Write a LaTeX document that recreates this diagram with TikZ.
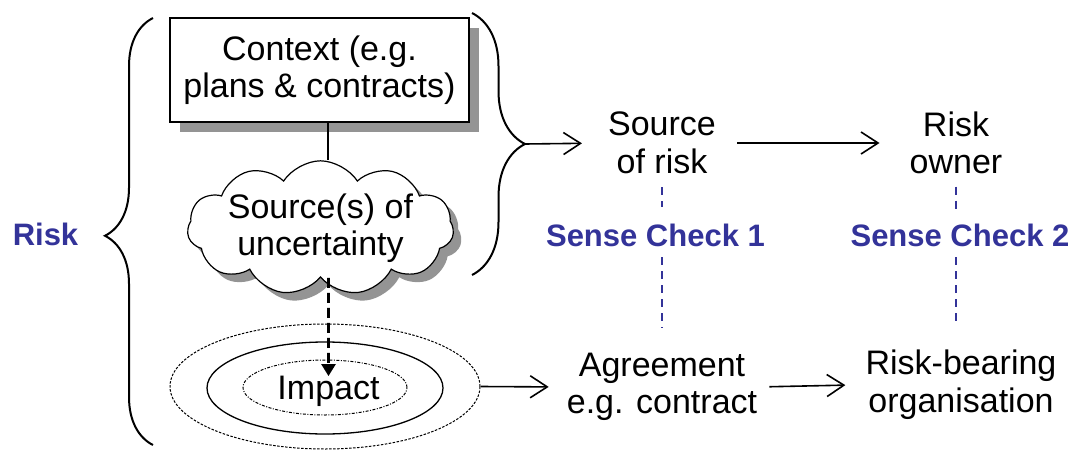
\documentclass[tikz,border=0pt]{standalone}
\usepackage{fontspec}
\setmainfont{Liberation Sans}
\usetikzlibrary{calc,shapes.geometric,shapes.symbols,shadows,decorations.pathreplacing,arrows.meta}
\definecolor{checkblue}{RGB}{51,51,153}

\begin{document}
\begin{tikzpicture}[
        x=1pt, y=-1pt,
        txt/.style={
            align=center,
            inner sep=0pt,
            font=\fontsize{34}{37.5}\selectfont,
        },
        context/.style={
            rectangle,
            draw,
            fill=white,
            line width=1.2pt,
            minimum width=299pt,
            minimum height=104pt,
            drop shadow={shadow xshift=10pt, shadow yshift=-10pt, fill=black!42, opacity=1},
        },
        puff/.style={
            cloud,
            cloud puffs=11,
            cloud puff arc=115,
            cloud ignores aspect,
            draw,
            fill=white,
            line width=1.2pt,
            minimum width=265pt,
            minimum height=112pt,
            drop shadow={shadow xshift=8pt, shadow yshift=-8pt, fill=black!42, opacity=1},
        },
        ring/.style={
            ellipse,
            draw,
            inner sep=0pt,
            line width=1pt,
        },
        sense/.style={
            inner sep=0pt,
            text=checkblue,
            font=\fontsize{31}{34}\selectfont\bfseries,
        },
        check/.style={
            draw=checkblue,
            line width=1.6pt,
            dash pattern=on 8pt off 6pt,
        },
        link/.style={
            -{Straight Barb[length=17pt,width=22pt]},
            line width=1.6pt,
        },
        bracket/.style={
            decorate,
            decoration={brace, amplitude=#1, aspect=0.5},
            line width=2pt,
        },
    ]

    \useasboundingbox (0,0) rectangle (1074,450);

    \draw [bracket=48pt, decoration={aspect=0.49}] (153,445) -- (153,18);
    \draw [bracket=53pt] (472,13) -- (472,275);
    \coordinate (rtip) at (525,144);

    \node (risk) at (45.5,234.5) [sense] {Risk};

    \node (ctx) at (319.5,70) [txt, context] {Context (e.g.\\plans \& contracts)};
    \node (worry) at (320.5,228) [txt, puff] {Source(s) of\\uncertainty};
    \draw [line width=2pt] ([xshift=8pt]ctx.south) -- ([xshift=8pt]ctx.south |- worry.north);

    \node (outer) at (325,386.5) [ring, dash pattern=on 2.5pt off 1.5pt, minimum width=310pt, minimum height=125pt] {};
    \node (middle) at (325,388) [ring, line width=1.3pt, minimum width=236pt, minimum height=92pt] {};
    \node (inner) at (325,387.5) [ring, dash pattern=on 3pt off 1.5pt on 1pt off 1.5pt, minimum width=164pt, minimum height=55pt] {};
    \node (impact) at (328.5,391.5) [txt] {Impact};
    \draw [line width=2.6pt, dash pattern=on 10pt off 5pt, -{Triangle[length=12pt,width=14pt]}] ([xshift=8pt]worry.south) -- (impact.north);

    \node (src) at (662,143) [txt] {Source\\of risk};
    \node (owner) at (956,143) [txt] {Risk\\owner};
    \node (agree) at (662,387) [txt] {Agreement\\e.g. contract};
    \node (bearer) at (961,384.7) [txt] {Risk-bearing\\organisation};

    \draw [link, shorten >=26pt] (rtip) -- (src.west);
    \draw [link, shorten <=21pt, shorten >=30pt] (src.east) -- (owner.west);
    \draw [link, shorten >=18pt] (outer.east) -- (agree.west);
    \draw [link, shorten <=12pt, shorten >=20pt] (agree.east) -- (bearer.west);

    \node (sc1) at (655.5,235.7) [sense] {Sense Check 1};
    \node (sc2) at (960,235.7) [sense] {Sense Check 2};

    \draw [check, shorten <=13.5pt, shorten >=17.4pt] (src.south) -- (src.south |- sc1.north);
    \draw [check, shorten <=10pt, shorten >=24.5pt] (sc1.south -| agree) -- (agree.north);
    \draw [check, shorten <=12.3pt, shorten >=12.4pt] (owner.south) -- (owner.south |- sc2.north);
    \draw [check, shorten <=10pt, shorten >=24.2pt] (sc2.south -| owner) -- (bearer.north -| owner);

\end{tikzpicture}
\end{document}
